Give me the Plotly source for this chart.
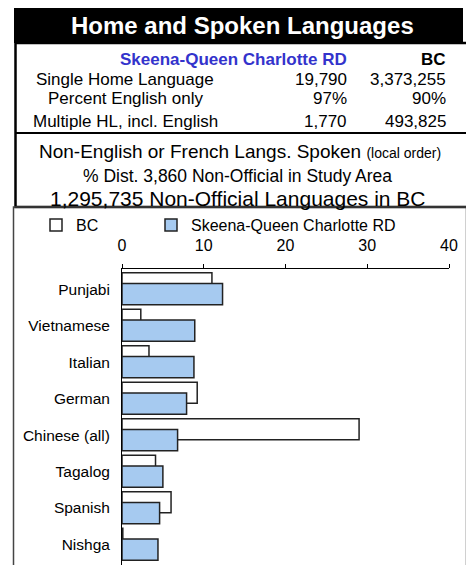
import plotly.graph_objects as go

# ---- data ----
languages = ["Punjabi", "Vietnamese", "Italian", "German", "Chinese (all)", "Tagalog", "Spanish", "Nishga"]
bc_pct = [11.0, 2.3, 3.3, 9.2, 29.0, 4.1, 6.0, 0.1]
region_pct = [12.3, 8.9, 8.8, 7.9, 6.8, 5.0, 4.6, 4.4]
region_name = "Skeena-Queen Charlotte RD"
x_ticks = [0, 10, 20, 30, 40]

table_labels = ["Single Home Language", "Percent English only", "Multiple HL, incl. English"]
table_region = ["19,790", "97%", "1,770"]
table_bc = ["3,373,255", "90%", "493,825"]

title_text = "Home and Spoken Languages"
sub_lines = [
    "Non-English or French Langs. Spoken <span style='font-size:14px'>(local order)</span>",
    "% Dist. 3,860 Non-Official in Study Area",
    "1,295,735 Non-Official Languages in BC",
]

# ---- figure geometry (page body has an 8px margin) ----
OFF = 8
W, H = 474 - OFF, 565 - OFF
ML, MR, MT, MB = 122 - OFF, 25, 269 - OFF, 0
PW, PH = W - ML - MR, H - MT - MB

def px(x):
    # x given in window pixels
    return (x - OFF - ML) / PW

def py(y):
    return (H - MB - (y - OFF)) / PH

FONT = "Liberation Sans, Arial, sans-serif"

fig = go.Figure()
fig.add_trace(go.Bar(
    y=languages, x=bc_pct, orientation="h", name="BC", legend="legend",
    marker=dict(color="white", line=dict(color="#222", width=1.5)),
    width=0.58, offset=-0.45,
))
fig.add_trace(go.Bar(
    y=languages, x=region_pct, orientation="h", name=region_name, legend="legend2",
    marker=dict(color="#A6CAF0", line=dict(color="#222", width=1.5)),
    width=0.58, offset=-0.15,
))

shapes = [
    dict(type="rect", xref="paper", yref="paper", x0=px(14), x1=px(463), y0=py(43), y1=py(5),
         fillcolor="black", line=dict(width=0), layer="below"),
    dict(type="rect", xref="paper", yref="paper", x0=px(15.5), x1=px(467.5), y0=py(207), y1=py(43),
         fillcolor="rgba(0,0,0,0)", line=dict(color="black", width=2.5)),
    dict(type="line", xref="paper", yref="paper", x0=px(15), x1=px(467), y0=py(133), y1=py(133),
         line=dict(color="black", width=2)),
    dict(type="rect", xref="paper", yref="paper", x0=px(13.5), x1=px(466.5), y0=py(620), y1=py(207),
         fillcolor="rgba(0,0,0,0)", line=dict(color="#444", width=1.5)),
]

ann = []
ann.append(dict(text="<b>" + title_text + "</b>", x=px(242), y=py(25), xref="paper", yref="paper",
                showarrow=False, xanchor="center", yanchor="middle",
                font=dict(family=FONT, size=24, color="white")))
ann.append(dict(text="<b>" + region_name + "</b>", x=px(349), y=py(60), xref="paper", yref="paper",
                showarrow=False, xanchor="right", yanchor="middle",
                font=dict(family=FONT, size=17, color="#3333CC")))
ann.append(dict(text="<b>BC</b>", x=px(448), y=py(60), xref="paper", yref="paper",
                showarrow=False, xanchor="right", yanchor="middle",
                font=dict(family=FONT, size=17, color="black")))
row_y = [79.5, 98.5, 121]
for lab, rv, bv, yy in zip(table_labels, table_region, table_bc, row_y):
    ann.append(dict(text=lab, x=px(125), y=py(yy), xref="paper", yref="paper", showarrow=False,
                    xanchor="center", yanchor="middle", font=dict(family=FONT, size=17, color="black")))
    ann.append(dict(text=rv, x=px(349), y=py(yy), xref="paper", yref="paper", showarrow=False,
                    xanchor="right", yanchor="middle", font=dict(family=FONT, size=17, color="black")))
    ann.append(dict(text=bv, x=px(448), y=py(yy), xref="paper", yref="paper", showarrow=False,
                    xanchor="right", yanchor="middle", font=dict(family=FONT, size=17, color="black")))
sub_y = [151.5, 175.5, 198.5]
sub_size = [19, 17.5, 21]
sub_x = [240, 237, 238]
for t, yy, sz, xx in zip(sub_lines, sub_y, sub_size, sub_x):
    ann.append(dict(text=t, x=px(xx), y=py(yy), xref="paper", yref="paper", showarrow=False,
                    xanchor="center", yanchor="middle", font=dict(family=FONT, size=sz, color="black")))

legend_common = dict(orientation="h", xanchor="left", yanchor="middle", y=py(225),
                     font=dict(family=FONT, size=16, color="black"), bgcolor="rgba(0,0,0,0)",
                     borderwidth=0)

fig.update_layout(
    width=W, height=H,
    margin=dict(l=ML, r=MR, t=MT, b=MB, pad=0, autoexpand=False),
    paper_bgcolor="white", plot_bgcolor="white",
    barmode="overlay",
    showlegend=True,
    legend=dict(x=px(36), **legend_common),
    legend2=dict(x=px(151), **legend_common),
    shapes=shapes, annotations=ann,
    xaxis=dict(side="top", range=[0, 40], tickvals=x_ticks, showgrid=False, zeroline=False,
               showline=True, linecolor="black", linewidth=1, ticks="outside", ticklen=4,
               tickcolor="black", ticklabelstandoff=7,
               tickfont=dict(family=FONT, size=16, color="black")),
    yaxis=dict(categoryorder="array", categoryarray=languages, range=[7.56, -0.55],
               showgrid=False, zeroline=False, showline=True, linecolor="black", linewidth=1,
               ticks="", ticklabelstandoff=8,
               tickfont=dict(family=FONT, size=15.5, color="black")),
    font=dict(family=FONT),
)

fig.write_html("out.html")
